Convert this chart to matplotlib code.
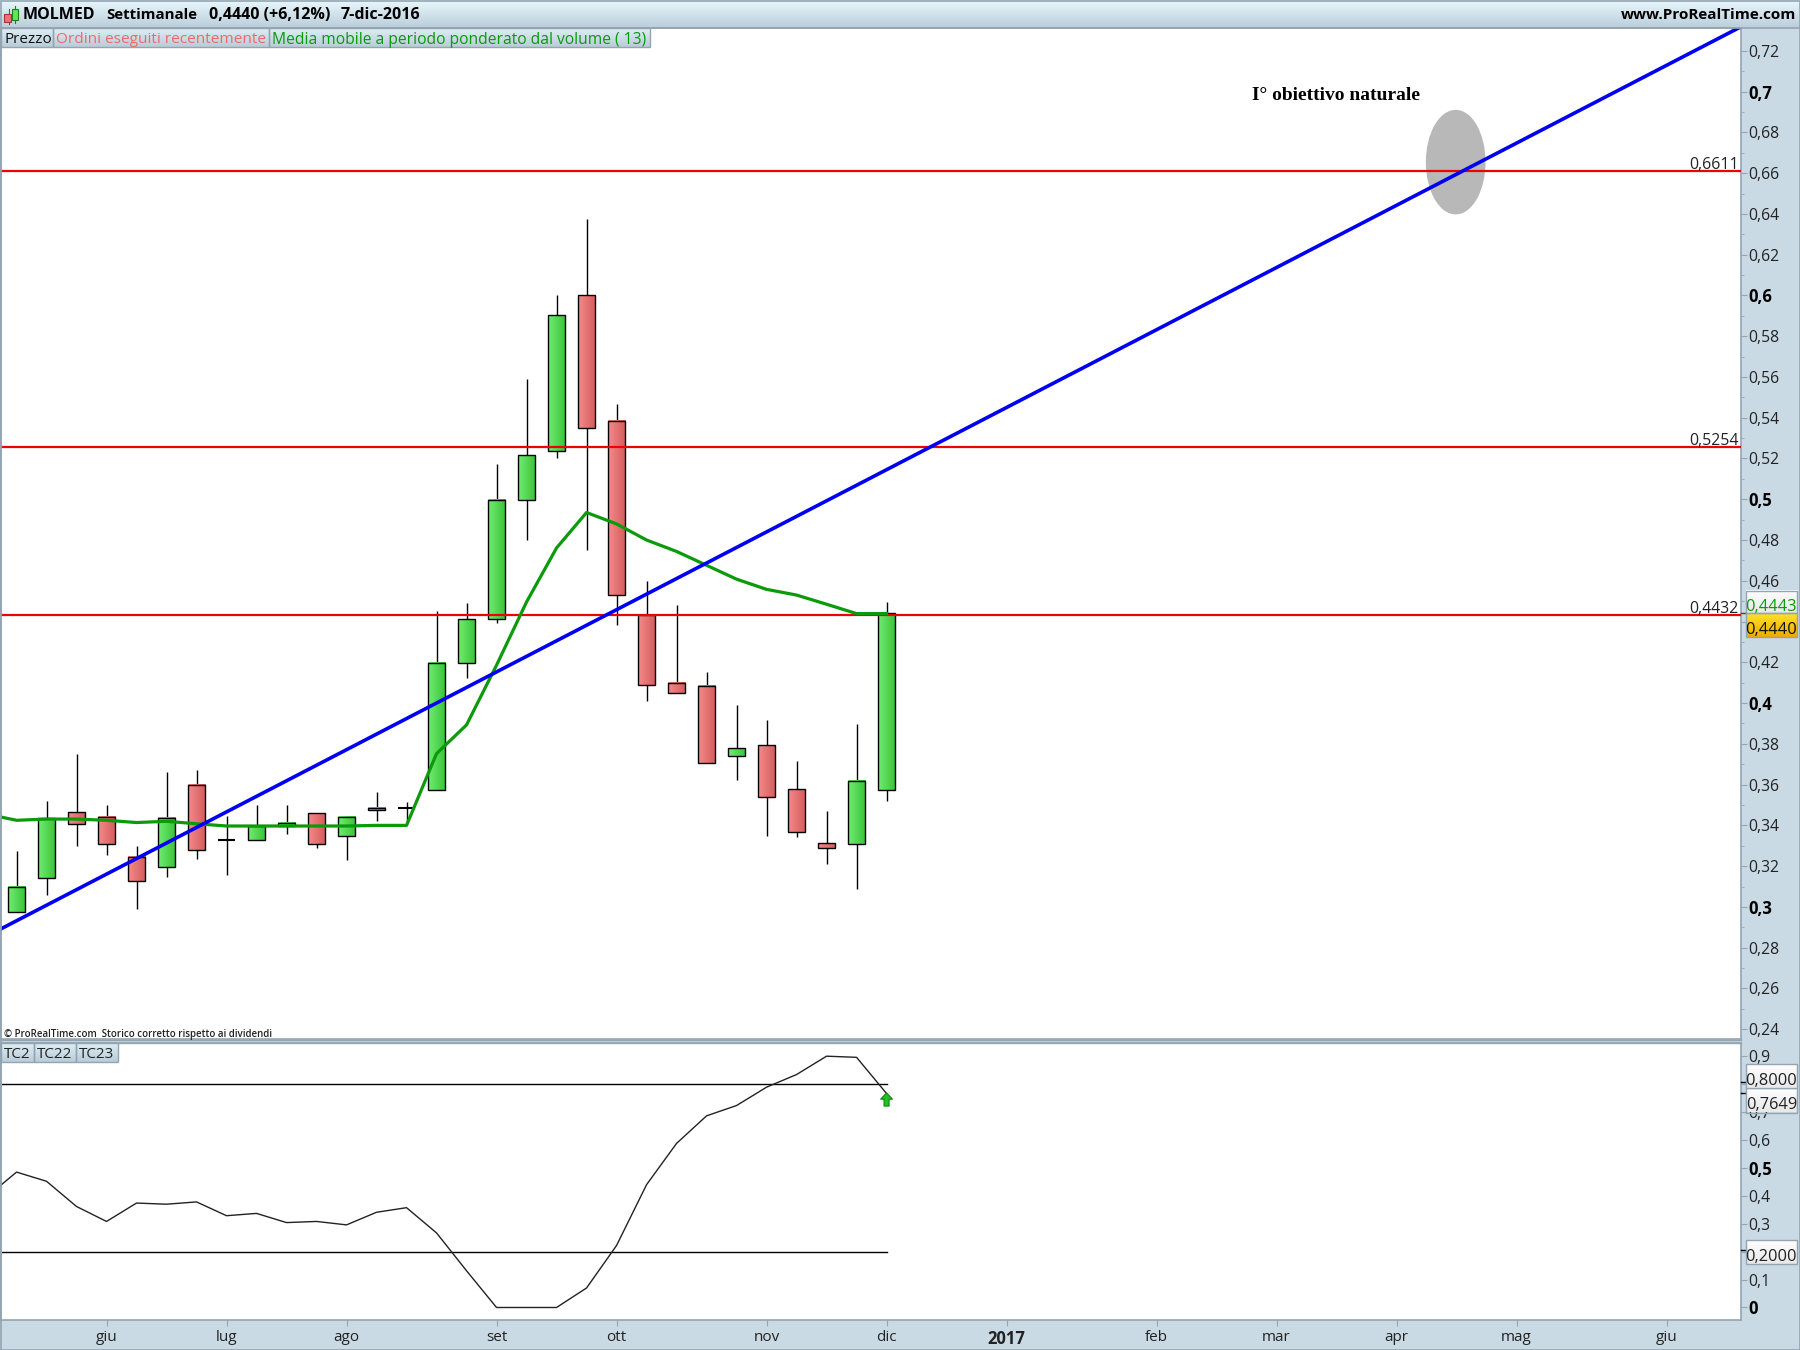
import matplotlib
matplotlib.use("Agg")
from matplotlib import pyplot as plt
from matplotlib.patches import Rectangle, Ellipse
from matplotlib.colors import LinearSegmentedColormap
import numpy as np

plt.rcParams['font.family'] = ['Open Sans', 'DejaVu Sans']

# weekly candles, one entry per bar
opens  = [.2975,.3144,.3465,.3442,.3245,.3194,.3600,.3330,.3330,.3397,.3459,.3346,.3476,.3487,.3572,
          .4197,.4411,.4997,.5239,.6000,.5386,.4434,.4101,.4085,.3741,.3792,.3577,.3313,.3307,.3572]
closes = [.3099,.3437,.3408,.3307,.3127,.3437,.3279,.3330,.3397,.3414,.3307,.3442,.3487,.3487,.4197,
          .4411,.4997,.5217,.5904,.5352,.4530,.4090,.4051,.3707,.3780,.3538,.3369,.3290,.3617,.4440]
highs  = [.3273,.3521,.3752,.3499,.3301,.3662,.3673,.3448,.3499,.3499,.3459,.3448,.3566,.3515,.4451,
          .4490,.5172,.5589,.6000,.6377,.5465,.4597,.4479,.4152,.3989,.3915,.3718,.3470,.3899,.4496]
lows   = [.2975,.3059,.3301,.3256,.2992,.3149,.3234,.3155,.3330,.3358,.3290,.3228,.3420,.3408,.3572,
          .4124,.4394,.4800,.5200,.4749,.4383,.4011,.4051,.3707,.3623,.3346,.3341,.3211,.3087,.3521]
vwma   = [.3425,.3431,.3431,.3425,.3414,.3420,.3408,.3397,.3397,.3397,.3397,.3397,.3400,.3400,.3752,
          .3893,.4186,.4496,.4761,.4935,.4879,.4800,.4744,.4676,.4608,.4558,.4530,.4485,.4439,.4439]
vwma_first = .3442

levels = [.6611,.5254,.4432]
level_labels = ['0,6611','0,5254','0,4432']
trend_x = [-0.55,57.45]
trend_y = [.2890,.7316]
target_x = 47.97
target_y = .6654
target_w = 1.99
target_h = .0513

tc2 = [.4840,.4512,.3610,.3076,.3733,.3692,.3774,.3281,.3363,.3035,.3076,.2953,.3404,.3568,.2666,
       .1313,0,0,0,.0697,.2215,.4389,.5865,.6850,.7219,.7875,.8327,.8983,.8942,.7649]
tc2_first = .4348
tc22 = .8
tc23 = .2

month_pos = [3,7,11,16,20,25,29,33,38,42,46,50,55]
month_labels = ['giu','lug','ago','set','ott','nov','dic','2017','feb','mar','apr','mag','giu']

W, H = 1800, 1350
BG = '#c9dae5'
EDGE = '#93a5b1'
TEXT = '#222222'


def px_axes(x0, y0, x1, y1, **kw):
    return fig.add_axes([x0/W, 1-y1/H, (x1-x0)/W, (y1-y0)/H], **kw)


def gradient(ax, x0, x1, y0, y1, c0, c1, horizontal=False, zorder=3):
    cmap = LinearSegmentedColormap.from_list('g', [c0, c1])
    img = np.linspace(0, 1, 32)
    img = img.reshape(1, -1) if horizontal else img.reshape(-1, 1)
    ax.imshow(img, cmap=cmap, extent=(x0, x1, y1, y0), origin='upper' if not horizontal else 'lower',
              aspect='auto', zorder=zorder, interpolation='bilinear')


fig = plt.figure(figsize=(18, 13.5), dpi=100, facecolor=BG)

ax1 = px_axes(1.3, 28, 1740.7, 1039)
ax2 = px_axes(1.3, 1042.7, 1740.7, 1320)
xlim = (-0.507, 57.47)
ylim1 = (.2352, .7312)
ylim2 = (-.0447, .9465)

# price panel
xs = np.arange(len(opens))
body_w = .58
for level in levels:
    ax1.axhline(level, color='#f00000', lw=1.6, zorder=4)
ax1.add_patch(Ellipse((target_x, target_y), target_w, target_h, fc='#b8b8b8', ec='none', zorder=1))
for i in xs:
    ax1.plot([i, i], [lows[i], highs[i]], color='black', lw=1.0, zorder=2, solid_capstyle='butt')
    top, bot = max(opens[i], closes[i]), min(opens[i], closes[i])
    if top == bot:
        ax1.plot([i-body_w/2, i+body_w/2], [top, top], color='black', lw=1.5, zorder=3, solid_capstyle='butt')
        continue
    if closes[i] > opens[i]:
        c0, c1 = '#72ec72', '#38c438'
    else:
        c0, c1 = '#f58a8a', '#d45c5c'
    gradient(ax1, i-body_w/2, i+body_w/2, bot, top, c0, c1, horizontal=True)
    ax1.add_patch(Rectangle((i-body_w/2, bot), body_w, top-bot, fc='none', ec='black', lw=1.0, zorder=3))
ax1.plot(np.r_[-0.55, xs], np.r_[vwma_first, vwma], color='#0a9a0a', lw=2.3, zorder=5)
ax1.plot(trend_x, trend_y, color='#0000f0', lw=2.6, zorder=6)
for level, label in zip(levels, level_labels):
    ax1.annotate(label, xy=(1, level), xycoords=('axes fraction', 'data'), xytext=(-1.5, -1.2),
                 textcoords='offset points', ha='right', va='bottom', fontsize=11.4, color=TEXT, zorder=7)
ax1.text(43.99, .6982, 'I° obiettivo naturale', family='Liberation Serif', weight='bold', fontsize=14,
         ha='center', va='center', color='black', zorder=7)
ax1.set_xlim(xlim)
ax1.set_ylim(ylim1)

# oscillator panel
ax2.plot(np.r_[-0.55, xs], np.r_[tc2_first, tc2], color='#222222', lw=1.0, zorder=3)
ax2.plot([-0.55, 29], [tc22, tc22], color='black', lw=1.0, zorder=2)
ax2.plot([-0.55, 29], [tc23, tc23], color='black', lw=1.0, zorder=2)
ax2.annotate('', xy=(29, .767), xytext=(29, .720),
             arrowprops=dict(width=3.6, headwidth=8.5, headlength=4.5, fc='#22c022', ec='#0a8a0a', lw=.8, shrink=0),
             zorder=5)
ax2.set_xlim(xlim)
ax2.set_ylim(ylim2)

for ax in (ax1, ax2):
    for side, s in ax.spines.items():
        s.set_color(EDGE)
        s.set_linewidth(1.2)
    ax.yaxis.tick_right()
    ax.tick_params(axis='y', which='both', direction='out', color=EDGE, labelcolor=TEXT, labelsize=11.3, length=4, pad=1.5)
    ax.tick_params(axis='y', which='minor', length=2.5)

ticks1 = np.round(np.arange(.24, .7201, .02), 2)
ax1.set_yticks(ticks1)
ax1.set_yticks(np.round(np.arange(.25, .7201, .02), 2), minor=True)
labels1 = []
for t in ticks1:
    s = ('%.2f' % t).replace('.', ',')
    if round(t*100) % 10 == 0:
        s = s.rstrip('0')
    # 0,44 sits under the value boxes
    labels1.append('' if t == .44 else s)
ax1.set_yticklabels(labels1)
for t, lab in zip(ticks1, ax1.get_yticklabels()):
    if round(t*100) % 10 == 0:
        lab.set_weight('bold')
        lab.set_fontsize(12)
        lab.set_color('black')

ticks2 = np.round(np.arange(0, .901, .1), 1)
ax2.set_yticks(ticks2)
# 0,2 and 0,8 sit under the value boxes
ax2.set_yticklabels(['0' if t == 0 else ('' if t in (.2, .8) else ('%.1f' % t).replace('.', ',')) for t in ticks2])
for t, lab in zip(ticks2, ax2.get_yticklabels()):
    if t in (0, .5):
        lab.set_weight('bold')
        lab.set_fontsize(12)
        lab.set_color('black')

ax1.set_xticks([])
ax2.set_xticks(month_pos)
ax2.set_xticklabels(month_labels)
ax2.tick_params(axis='x', direction='out', color=EDGE, labelcolor=TEXT, labelsize=11, length=4, pad=3)
for lab, name in zip(ax2.get_xticklabels(), month_labels):
    if name == '2017':
        lab.set_weight('bold')
        lab.set_fontsize(12)

# window furniture on top, in pixels
ov = fig.add_axes([0, 0, 1, 1], zorder=10)
ov.patch.set_alpha(0)
ov.axis('off')

gradient(ov, 0, W, 0, 27, '#e8f7fc', '#bccfdb', zorder=1)
ov.plot([0, W], [27.5, 27.5], color=EDGE, lw=1.2, zorder=2)
ov.plot([0, 1741], [1039.5, 1039.5], color=EDGE, lw=1.0, zorder=2)
ov.plot([0, 1741], [1042.5, 1042.5], color=EDGE, lw=1.0, zorder=2)
ov.add_patch(Rectangle((.5, .5), W-1, H-1, fc='none', ec=EDGE, lw=1.2, zorder=2))

# small candle icon in the header
ov.plot([8.5, 8.5], [9, 24], color='#aa3333', lw=.8, zorder=3)
ov.add_patch(Rectangle((4, 14), 7, 8, fc='#f07070', ec='#aa3333', lw=.8, zorder=4))
ov.plot([15, 15], [6, 23], color='#118811', lw=.8, zorder=3)
ov.add_patch(Rectangle((12, 9), 6, 11, fc='#66e066', ec='#118811', lw=.8, zorder=4))

header_x = [23, 106, 209, 341]
header_text = ['MOLMED', 'Settimanale', '0,4440 (+6,12%)', '7-dic-2016']
header_size = [11.5, 10.8, 11.5, 11.5]
for x, s, fs in zip(header_x, header_text, header_size):
    ov.text(x, 15, s, weight='bold', fontsize=fs, color='black', ha='left', va='center', zorder=5)
ov.text(1796, 15, 'www.ProRealTime.com', weight='bold', fontsize=11, color='black', ha='right', va='center', zorder=5)

# legend tabs
tab_x = [1, 53, 269, 650]
tab_text = ['Prezzo', 'Ordini eseguiti recentemente', 'Media mobile a periodo ponderato dal volume ( 13)']
tab_col = ['#111111', '#ee6a6a', '#0a9a0a']
tab_size = [11, 11.1, 11.25]
for k in range(3):
    gradient(ov, tab_x[k], tab_x[k+1], 28, 47, '#dfeef5', '#b9ccd8', zorder=3)
    ov.add_patch(Rectangle((tab_x[k], 28), tab_x[k+1]-tab_x[k], 19, fc='none', ec=EDGE, lw=1, zorder=4))
    ov.text(tab_x[k]+3, 39.5, tab_text[k], color=tab_col[k], fontsize=tab_size[k], ha='left', va='center', zorder=5)

tab2_x = [1, 34, 76, 118]
for k, s in enumerate(['TC2', 'TC22', 'TC23']):
    gradient(ov, tab2_x[k], tab2_x[k+1], 1043, 1061.7, '#dfeef5', '#b9ccd8', zorder=3)
    ov.add_patch(Rectangle((tab2_x[k], 1043), tab2_x[k+1]-tab2_x[k], 18.7, fc='none', ec=EDGE, lw=1, zorder=4))
    ov.text(tab2_x[k]+3, 1054.5, s, color='#222222', fontsize=11, ha='left', va='center', zorder=5)

ov.text(4, 1034, '© ProRealTime.com  Storico corretto rispetto ai dividendi', fontsize=7.05, weight='semibold',
        color='#222222', ha='left', va='center', zorder=5)

# value boxes on the right scale
box_y = [(590.7, 613, '0,4443', '#0a9a0a'), (1064.3, 1088, '0,8000', '#222222'),
         (1088, 1112.5, '0,7649', '#222222'), (1239.7, 1263.7, '0,2000', '#222222')]
for y0, y1, s, col in box_y:
    gradient(ov, 1745.7, 1797, y0, y1, '#ffffff', '#e8e8e8', zorder=3)
    ov.add_patch(Rectangle((1745.7, y0), 51.3, y1-y0, fc='none', ec=EDGE, lw=1, zorder=4))
    ov.text(1771.3, (y0+y1)/2+5, s, color=col, fontsize=11.8, ha='center', va='center', zorder=5)
gradient(ov, 1745.7, 1797, 613, 637, '#ffe22a', '#eeac00', zorder=3)
ov.add_patch(Rectangle((1745.7, 613), 51.3, 24, fc='none', ec=EDGE, lw=1, zorder=4))
ov.text(1771.3, 630, '0,4440', color='#111111', fontsize=11.8, ha='center', va='center', zorder=5)

# dark ticks that tie the boxes to the scale
for y, col in zip([613, 1081.7, 1092.7, 1250], ['#0a6a0a', 'black', 'black', 'black']):
    ov.plot([1741, 1745.5], [y, y], color=col, lw=1, zorder=2)

ov.set_xlim(0, W)
ov.set_ylim(H, 0)

fig.savefig('out.png', dpi=100, facecolor=BG)
